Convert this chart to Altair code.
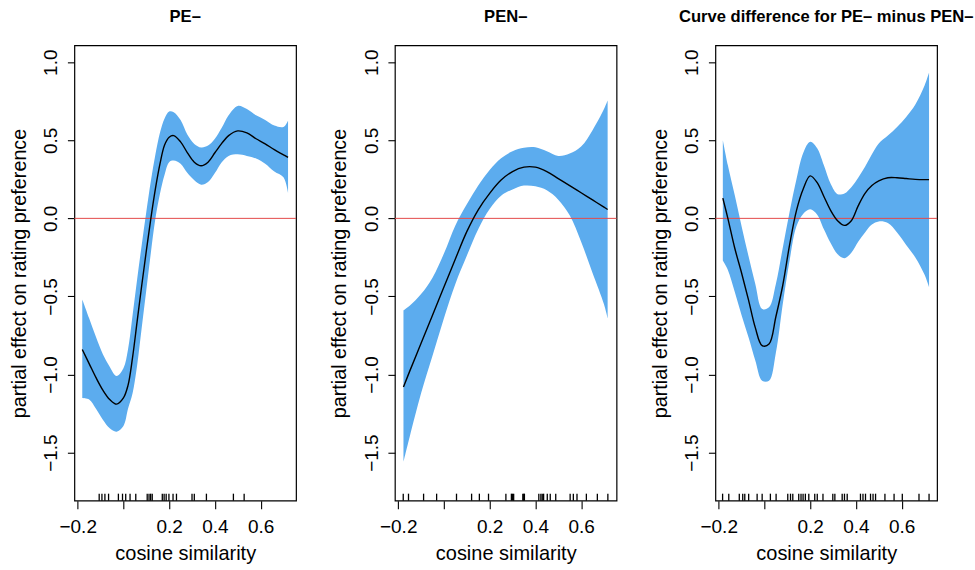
import altair as alt
import pandas as pd

FONT = "Liberation Sans"
BAND = "#5CACEE"
ZERO_RED = "#E34A4A"

X_TICKS = [-0.2, 0.0, 0.2, 0.4, 0.6]
Y_TICKS = [-1.5, -1.0, -0.5, 0.0, 0.5, 1.0]
X_DOMAIN = [-0.2145, 0.755]
Y_DOMAIN = [-1.808, 1.108]
TITLES = ["PE–", "PEN–", "Curve difference for PE– minus PEN–"]
X_LABEL = "cosine similarity"
Y_LABEL = "partial effect on rating preference"

# Panel 1: PE-
X1 = [-0.18, -0.15, -0.12, -0.09, -0.06, -0.03, 0.0, 0.02, 0.04, 0.06, 0.08, 0.10, 0.12,
      0.14, 0.16, 0.18, 0.20, 0.22, 0.25, 0.28, 0.31, 0.34, 0.37, 0.40, 0.43, 0.46, 0.50,
      0.54, 0.58, 0.62, 0.66, 0.70, 0.72]
FIT1 = [-0.84, -0.93, -1.02, -1.10, -1.16, -1.19, -1.15, -1.07, -0.89, -0.66, -0.43, -0.21, 0.0,
        0.19, 0.35, 0.47, 0.52, 0.53, 0.49, 0.42, 0.36, 0.337, 0.36, 0.42, 0.48, 0.53, 0.56,
        0.547, 0.51, 0.477, 0.44, 0.407, 0.39]
HI1 = [-0.52, -0.64, -0.76, -0.87, -0.95, -1.01, -0.96, -0.84, -0.62, -0.39, -0.17, 0.04, 0.24,
       0.41, 0.55, 0.64, 0.685, 0.68, 0.63, 0.535, 0.477, 0.454, 0.466, 0.51, 0.58, 0.66, 0.72,
       0.70, 0.66, 0.63, 0.594, 0.585, 0.625]
LO1 = [-1.15, -1.16, -1.22, -1.29, -1.345, -1.366, -1.33, -1.22, -1.12, -0.94, -0.70, -0.46, -0.22,
       0.0, 0.16, 0.28, 0.36, 0.37, 0.35, 0.29, 0.244, 0.216, 0.233, 0.29, 0.36, 0.40, 0.41,
       0.40, 0.384, 0.35, 0.30, 0.263, 0.163]
RUG1 = [-0.106, -0.094, -0.081, -0.065, -0.022, -0.004, 0.010, 0.029, 0.054, 0.104, 0.112, 0.119,
        0.126, 0.170, 0.178, 0.187, 0.199, 0.217, 0.232, 0.300, 0.310, 0.363, 0.481, 0.528]

# Panel 2: PEN-
X2 = [-0.177, -0.15, -0.10, -0.05, 0.0, 0.05, 0.10, 0.15, 0.20, 0.25, 0.30, 0.35, 0.40, 0.45,
      0.50, 0.55, 0.60, 0.65, 0.70, 0.716]
FIT2 = [-1.08, -0.98, -0.80, -0.62, -0.44, -0.26, -0.085, 0.055, 0.16, 0.245, 0.30, 0.328, 0.328,
        0.30, 0.255, 0.21, 0.164, 0.118, 0.072, 0.057]
HI2 = [-0.59, -0.56, -0.485, -0.38, -0.225, -0.045, 0.09, 0.21, 0.31, 0.385, 0.43, 0.452, 0.455,
       0.43, 0.40, 0.415, 0.46, 0.565, 0.70, 0.755]
LO2 = [-1.56, -1.40, -1.12, -0.88, -0.64, -0.42, -0.24, -0.07, 0.06, 0.145, 0.185, 0.21, 0.205,
       0.18, 0.12, 0.02, -0.15, -0.35, -0.55, -0.64]
RUG2 = [-0.178, -0.155, -0.089, -0.032, 0.055, 0.121, 0.155, 0.195, 0.271, 0.295, 0.300, 0.305,
        0.345, 0.349, 0.352, 0.415, 0.424, 0.430, 0.436, 0.452, 0.465, 0.489, 0.552, 0.566,
        0.582, 0.623, 0.671, 0.717]

# Panel 3: difference
X3 = [-0.182, -0.16, -0.13, -0.10, -0.07, -0.04, -0.01, 0.02, 0.05, 0.08, 0.11, 0.14, 0.17,
      0.20, 0.23, 0.26, 0.29, 0.32, 0.35, 0.38, 0.41, 0.44, 0.47, 0.50, 0.54, 0.58, 0.62, 0.66,
      0.70, 0.72]
FIT3 = [0.13, 0.00, -0.19, -0.35, -0.52, -0.70, -0.815, -0.805, -0.63, -0.43, -0.17, 0.05, 0.19,
        0.272, 0.23, 0.14, 0.05, -0.015, -0.045, -0.015, 0.08, 0.16, 0.21, 0.24, 0.26, 0.26, 0.255,
        0.25, 0.248, 0.248]
HI3 = [0.50, 0.34, 0.15, -0.05, -0.24, -0.42, -0.58, -0.57, -0.42, -0.19, 0.04, 0.25, 0.42,
       0.49, 0.45, 0.34, 0.22, 0.155, 0.16, 0.20, 0.26, 0.33, 0.41, 0.48, 0.53, 0.585, 0.65,
       0.73, 0.85, 0.935]
LO3 = [-0.27, -0.33, -0.47, -0.62, -0.76, -0.91, -1.04, -1.04, -0.86, -0.55, -0.27, -0.05, 0.03,
       0.058, 0.025, -0.07, -0.16, -0.23, -0.255, -0.22, -0.15, -0.09, -0.04, -0.02, -0.03,
       -0.09, -0.17, -0.25, -0.36, -0.44]
RUG3 = [-0.183, -0.156, -0.110, -0.095, -0.086, -0.069, -0.032, -0.010, 0.026, 0.051, 0.102,
        0.114, 0.124, 0.150, 0.160, 0.169, 0.179, 0.194, 0.220, 0.231, 0.256, 0.299, 0.308,
        0.340, 0.350, 0.362, 0.420, 0.431, 0.442, 0.464, 0.475, 0.486, 0.527, 0.567, 0.603,
        0.676, 0.720]

W = 222
H = 456
INTERP = "catmull-rom"


def panel(x, fit, lo, hi, rug, title):
    df = pd.DataFrame({"x": x, "fit": fit, "lo": lo, "hi": hi})
    rug_df = pd.DataFrame({"r": rug})
    zero_df = pd.DataFrame({"z": [0.0]})
    xs = alt.Scale(domain=X_DOMAIN, nice=False, zero=False)
    ys = alt.Scale(domain=Y_DOMAIN, nice=False, zero=False)
    xaxis = alt.Axis(
        values=X_TICKS,
        labelExpr="datum.value == 0 ? '' : replace(format(datum.value, '.1f'), '-', '\u2212')",
        title=X_LABEL, tickSize=8, labelPadding=23.5, labelBaseline="alphabetic",
        labelFontSize=19, titleFontSize=20, titleBaseline="alphabetic", titleY=59,
    )
    yaxis = alt.Axis(
        values=Y_TICKS,
        labelExpr="replace(format(datum.value, '.1f'), '-', '\u2212')",
        title=Y_LABEL, tickSize=7, labelPadding=10.5, labelAngle=-90,
        labelAlign="center", labelBaseline="alphabetic", labelFontSize=19,
        titleFontSize=19.8, titleAngle=-90, titleAlign="center", titleBaseline="alphabetic",
        titleX=-49, titleY=H / 2,
    )
    band = alt.Chart(df).mark_area(color=BAND, opacity=1, interpolate=INTERP).encode(
        x=alt.X("x:Q", scale=xs, axis=xaxis),
        y=alt.Y("lo:Q", scale=ys, axis=yaxis),
        y2="hi:Q",
    )
    zero = alt.Chart(zero_df).mark_rule(color=ZERO_RED, strokeWidth=1).encode(
        y=alt.Y("z:Q", scale=ys)
    )
    line = alt.Chart(df).mark_line(color="black", strokeWidth=1.4, interpolate=INTERP).encode(
        x=alt.X("x:Q", scale=xs), y=alt.Y("fit:Q", scale=ys)
    )
    rugs = alt.Chart(rug_df).mark_rule(color="black", strokeWidth=1.3).encode(
        x=alt.X("r:Q", scale=xs), y=alt.value(H), y2=alt.value(H - 7)
    )
    return alt.layer(band, zero, line, rugs).properties(
        width=W, height=H,
        title=alt.Title(title, fontSize=16.6, fontWeight="bold", font=FONT, color="black",
                        anchor="middle", frame="group", baseline="alphabetic", offset=7),
    )


chart = alt.hconcat(
    panel(X1, FIT1, LO1, HI1, RUG1, TITLES[0]),
    panel(X2, FIT2, LO2, HI2, RUG2, TITLES[1]),
    panel(X3, FIT3, LO3, HI3, RUG3, TITLES[2]),
    spacing=99, bounds="flush",
).properties(
    padding={"left": 8.5, "top": 7, "right": 0, "bottom": 0},
    background="white",
).configure_view(
    stroke="black", strokeWidth=1.2
).configure_axis(
    labelFont=FONT, titleFont=FONT, labelColor="black", titleColor="black",
    tickColor="black", tickWidth=1.1, domain=False, grid=False, labelOverlap=False,
    titleFontWeight="normal", labelFlush=False,
)

chart.save("out.html", embed_options={"renderer": "svg", "actions": False})
